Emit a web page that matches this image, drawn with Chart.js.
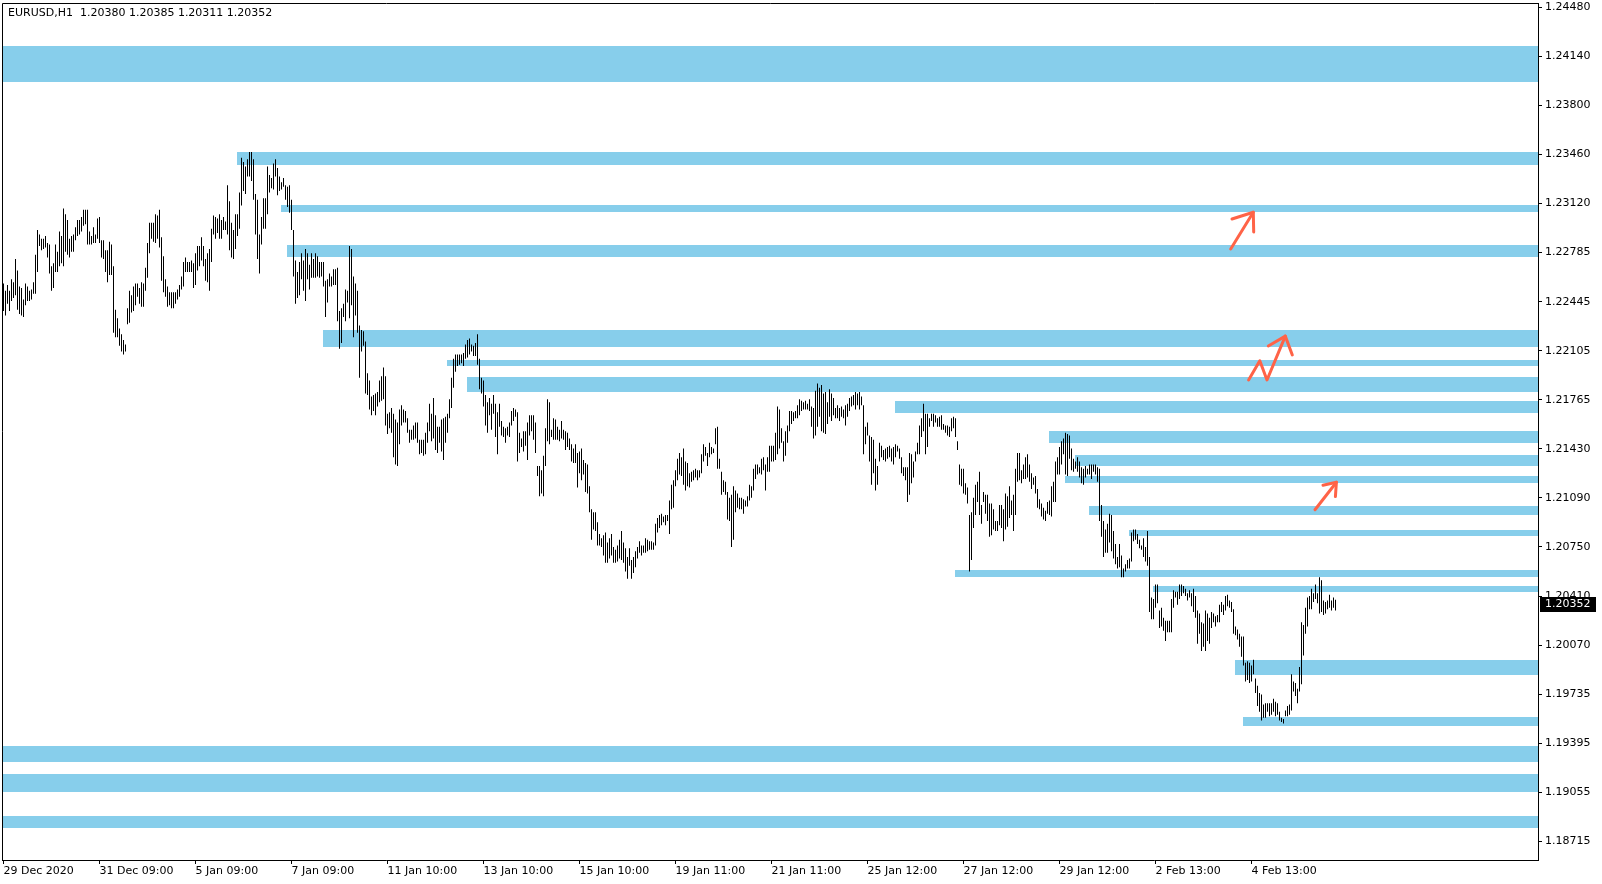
<!DOCTYPE html>
<html>
<head>
<meta charset="utf-8">
<title>EURUSD,H1</title>
<script src="https://cdn.jsdelivr.net/npm/chart.js@4.4.1/dist/chart.umd.min.js"></script>
<style>
  html, body { margin: 0; padding: 0; background: #fff; overflow: hidden; }
  #wrap { width: 1602px; height: 884px; position: relative; }
</style>
</head>
<body>
<div id="wrap"><canvas id="chart"></canvas></div>
<script>
const symbol = "EURUSD,H1";
// open, high, low, close of the last bar
const lastQuote = [1.20380, 1.20385, 1.20311, 1.20352];

const timeLabels = ["29 Dec 2020", "31 Dec 09:00", "5 Jan 09:00", "7 Jan 09:00", "11 Jan 10:00",
  "13 Jan 10:00", "15 Jan 10:00", "19 Jan 11:00", "21 Jan 11:00", "25 Jan 12:00",
  "27 Jan 12:00", "29 Jan 12:00", "2 Feb 13:00", "4 Feb 13:00"];
const barsPerLabel = 48;

const priceLabels = ["1.24480", "1.24140", "1.23800", "1.23460", "1.23120", "1.22785",
  "1.22445", "1.22105", "1.21765", "1.21430", "1.21090", "1.20750", "1.20410",
  "1.20070", "1.19735", "1.19395", "1.19055", "1.18715"];

// H1 bar highs and lows
const highs = [
  1.2257,1.2252,1.2256,1.2252,1.2260,1.2258,1.2274,1.2266,1.2255,1.2254,
  1.2246,1.2257,1.2255,1.2252,1.2253,1.2258,1.2277,1.2294,1.2291,1.2288,
  1.2288,1.2290,1.2285,1.2284,1.2269,1.2271,1.2284,1.2279,1.2293,1.2290,
  1.2309,1.2305,1.2301,1.2288,1.2290,1.2291,1.2296,1.2301,1.2301,1.2303,
  1.2308,1.2308,1.2308,1.2293,1.2290,1.2296,1.2291,1.2302,1.2303,1.2287,
  1.2287,1.2280,1.2280,1.2286,1.2284,1.2269,1.2239,1.2233,1.2226,1.2222,
  1.2218,1.2215,1.2240,1.2252,1.2249,1.2255,1.2257,1.2257,1.2254,1.2258,
  1.2257,1.2268,1.2285,1.2299,1.2299,1.2299,1.2305,1.2304,1.2308,1.2289,
  1.2276,1.2260,1.2255,1.2251,1.2251,1.2251,1.2251,1.2253,1.2256,1.2262,
  1.2272,1.2275,1.2272,1.2272,1.2273,1.2271,1.2278,1.2283,1.2283,1.2289,
  1.2283,1.2274,1.2278,1.2281,1.2295,1.2304,1.2303,1.2302,1.2305,1.2301,
  1.2303,1.2300,1.2325,1.2314,1.2299,1.2294,1.2305,1.2305,1.2320,1.2344,
  1.2341,1.2338,1.2343,1.2348,1.2348,1.2343,1.2319,1.2315,1.2291,1.2303,
  1.2316,1.2316,1.2338,1.2332,1.2330,1.2340,1.2343,1.2337,1.2331,1.2327,
  1.2330,1.2325,1.2324,1.2325,1.2315,1.2294,1.2273,1.2265,1.2272,1.2278,
  1.2273,1.2281,1.2278,1.2270,1.2278,1.2274,1.2278,1.2276,1.2272,1.2272,
  1.2272,1.2259,1.2260,1.2264,1.2262,1.2267,1.2267,1.2268,1.2238,1.2240,
  1.2243,1.2253,1.2252,1.2283,1.2281,1.2262,1.2257,1.2252,1.2228,1.2225,
  1.2224,1.2217,1.2195,1.2190,1.2179,1.2180,1.2181,1.2182,1.2190,1.2193,
  1.2199,1.2193,1.2167,1.2168,1.2171,1.2167,1.2163,1.2161,1.2170,1.2173,
  1.2170,1.2169,1.2164,1.2156,1.2156,1.2159,1.2161,1.2161,1.2149,1.2149,
  1.2149,1.2154,1.2161,1.2174,1.2167,1.2178,1.2166,1.2158,1.2158,1.2163,
  1.2164,1.2165,1.2167,1.2177,1.2192,1.2205,1.2208,1.2208,1.2208,1.2208,
  1.2209,1.2215,1.2218,1.2219,1.2215,1.2214,1.2216,1.2222,1.2205,1.2192,
  1.2190,1.2180,1.2175,1.2178,1.2174,1.2180,1.2174,1.2168,1.2174,1.2162,
  1.2158,1.2157,1.2158,1.2161,1.2169,1.2171,1.2170,1.2168,1.2154,1.2150,
  1.2155,1.2155,1.2161,1.2166,1.2166,1.2166,1.2161,1.2131,1.2131,1.2128,
  1.2138,1.2157,1.2177,1.2175,1.2156,1.2164,1.2163,1.2158,1.2156,1.2162,
  1.2156,1.2155,1.2154,1.2150,1.2146,1.2143,1.2146,1.2140,1.2141,1.2143,
  1.2135,1.2133,1.2132,1.2117,1.2101,1.2099,1.2099,1.2092,1.2084,1.2081,
  1.2083,1.2085,1.2078,1.2081,1.2084,1.2075,1.2073,1.2076,1.2080,1.2086,
  1.2078,1.2074,1.2068,1.2074,1.2066,1.2068,1.2072,1.2075,1.2079,1.2076,
  1.2076,1.2081,1.2080,1.2079,1.2079,1.2078,1.2091,1.2095,1.2097,1.2098,
  1.2096,1.2097,1.2097,1.2107,1.2118,1.2121,1.2128,1.2136,1.2140,1.2137,
  1.2143,1.2134,1.2133,1.2126,1.2127,1.2128,1.2129,1.2128,1.2128,1.2139,
  1.2146,1.2144,1.2140,1.2147,1.2144,1.2143,1.2157,1.2158,1.2136,1.2127,
  1.2121,1.2120,1.2113,1.2109,1.2111,1.2117,1.2114,1.2112,1.2109,1.2109,
  1.2108,1.2107,1.2110,1.2118,1.2117,1.2129,1.2132,1.2132,1.2130,1.2136,
  1.2137,1.2132,1.2137,1.2145,1.2145,1.2145,1.2154,1.2172,1.2170,1.2157,
  1.2148,1.2155,1.2159,1.2169,1.2169,1.2168,1.2169,1.2173,1.2177,1.2176,
  1.2175,1.2176,1.2174,1.2177,1.2172,1.2171,1.2183,1.2188,1.2185,1.2187,
  1.2181,1.2182,1.2175,1.2184,1.2181,1.2178,1.2171,1.2173,1.2171,1.2172,
  1.2170,1.2173,1.2174,1.2178,1.2179,1.2180,1.2182,1.2181,1.2182,1.2179,
  1.2173,1.2158,1.2161,1.2152,1.2151,1.2149,1.2136,1.2131,1.2147,1.2145,
  1.2142,1.2143,1.2144,1.2145,1.2143,1.2144,1.2146,1.2145,1.2143,1.2137,
  1.2130,1.2130,1.2130,1.2140,1.2139,1.2134,1.2141,1.2147,1.2159,1.2164,
  1.2174,1.2167,1.2167,1.2164,1.2167,1.2167,1.2166,1.2164,1.2165,1.2166,
  1.2160,1.2159,1.2159,1.2158,1.2164,1.2165,1.2164,1.2148,1.2132,1.2129,
  1.2129,1.2119,1.2116,1.2097,1.2099,1.2109,1.2118,1.2120,1.2127,1.2104,
  1.2113,1.2111,1.2111,1.2105,1.2105,1.2101,1.2093,1.2093,1.2104,1.2104,
  1.2101,1.2112,1.2110,1.2117,1.2107,1.2111,1.2129,1.2140,1.2140,1.2128,
  1.2132,1.2137,1.2139,1.2132,1.2126,1.2123,1.2124,1.2115,1.2108,1.2105,
  1.2102,1.2100,1.2106,1.2107,1.2117,1.2120,1.2134,1.2137,1.2144,1.2148,
  1.2150,1.2154,1.2153,1.2152,1.2143,1.2136,1.2134,1.2137,1.2134,1.2130,
  1.2129,1.2131,1.2129,1.2132,1.2132,1.2132,1.2132,1.2130,1.2129,1.2104,
  1.2093,1.2087,1.2091,1.2098,1.2097,1.2086,1.2077,1.2068,1.2077,1.2069,
  1.2060,1.2063,1.2066,1.2067,1.2085,1.2087,1.2087,1.2084,1.2080,1.2076,
  1.2081,1.2075,1.2086,1.2068,1.2040,1.2039,1.2049,1.2049,1.2031,1.2033,
  1.2026,1.2024,1.2024,1.2024,1.2039,1.2045,1.2044,1.2044,1.2049,1.2049,
  1.2048,1.2046,1.2043,1.2045,1.2043,1.2046,1.2041,1.2031,1.2029,1.2023,
  1.2022,1.2031,1.2029,1.2026,1.2030,1.2029,1.2027,1.2028,1.2035,1.2037,
  1.2035,1.2041,1.2042,1.2038,1.2037,1.2032,1.2020,1.2018,1.2015,1.2013,
  1.2013,1.1995,1.1996,1.1995,1.1993,1.1997,1.1984,1.1979,1.1974,1.1973,
  1.1966,1.1967,1.1967,1.1967,1.1967,1.1970,1.1968,1.1967,1.1961,1.1957,
  1.1956,1.1962,1.1965,1.1966,1.1987,1.1982,1.1981,1.1977,1.1992,1.2023,
  1.2021,1.2033,1.2040,1.2041,1.2046,1.2043,1.2049,1.2043,1.2054,1.2052,
  1.2038,1.2037,1.2038,1.2042,1.2038,1.2040,1.20385
];
const lows = [
  1.2238,1.2235,1.2243,1.2238,1.2245,1.2247,1.2249,1.2239,1.2236,1.2235,
  1.2234,1.2242,1.2245,1.2245,1.2246,1.2250,1.2250,1.2265,1.2283,1.2280,
  1.2281,1.2282,1.2275,1.2264,1.2252,1.2254,1.2265,1.2265,1.2269,1.2271,
  1.2269,1.2279,1.2277,1.2275,1.2279,1.2279,1.2287,1.2290,1.2291,1.2293,
  1.2297,1.2298,1.2284,1.2284,1.2284,1.2285,1.2285,1.2288,1.2285,1.2275,
  1.2274,1.2265,1.2258,1.2263,1.2263,1.2223,1.2220,1.2220,1.2214,1.2210,
  1.2208,1.2210,1.2229,1.2230,1.2237,1.2238,1.2242,1.2248,1.2243,1.2241,
  1.2241,1.2252,1.2261,1.2278,1.2288,1.2286,1.2285,1.2288,1.2282,1.2259,
  1.2251,1.2248,1.2241,1.2242,1.2240,1.2240,1.2243,1.2246,1.2248,1.2253,
  1.2255,1.2265,1.2265,1.2265,1.2265,1.2254,1.2256,1.2266,1.2269,1.2273,
  1.2269,1.2259,1.2258,1.2252,1.2272,1.2291,1.2288,1.2292,1.2288,1.2288,
  1.2294,1.2294,1.2291,1.2280,1.2275,1.2274,1.2281,1.2290,1.2295,1.2311,
  1.2321,1.2319,1.2331,1.2331,1.2328,1.2315,1.2291,1.2274,1.2264,1.2284,
  1.2295,1.2295,1.2305,1.2320,1.2323,1.2322,1.2331,1.2318,1.2321,1.2322,
  1.2324,1.2315,1.2310,1.2306,1.2294,1.2262,1.2243,1.2247,1.2249,1.2260,
  1.2252,1.2245,1.2260,1.2253,1.2261,1.2261,1.2261,1.2262,1.2261,1.2262,
  1.2255,1.2234,1.2244,1.2255,1.2255,1.2256,1.2256,1.2231,1.2212,1.2216,
  1.2234,1.2231,1.2244,1.2233,1.2242,1.2220,1.2235,1.2223,1.2192,1.2210,
  1.2214,1.2181,1.2180,1.2170,1.2166,1.2169,1.2166,1.2172,1.2175,1.2176,
  1.2177,1.2159,1.2153,1.2157,1.2154,1.2137,1.2132,1.2131,1.2146,1.2159,
  1.2161,1.2161,1.2154,1.2147,1.2149,1.2149,1.2150,1.2147,1.2139,1.2140,
  1.2138,1.2139,1.2147,1.2155,1.2148,1.2150,1.2142,1.2140,1.2147,1.2141,
  1.2135,1.2147,1.2154,1.2164,1.2171,1.2185,1.2196,1.2200,1.2201,1.2202,
  1.2200,1.2205,1.2206,1.2208,1.2210,1.2207,1.2207,1.2201,1.2184,1.2181,
  1.2172,1.2159,1.2154,1.2166,1.2156,1.2167,1.2151,1.2139,1.2158,1.2152,
  1.2151,1.2147,1.2152,1.2151,1.2159,1.2162,1.2165,1.2134,1.2140,1.2144,
  1.2141,1.2145,1.2135,1.2152,1.2155,1.2149,1.2140,1.2124,1.2110,1.2112,
  1.2110,1.2131,1.2148,1.2146,1.2151,1.2149,1.2149,1.2149,1.2148,1.2150,
  1.2149,1.2142,1.2144,1.2142,1.2134,1.2133,1.2133,1.2116,1.2126,1.2121,
  1.2125,1.2113,1.2112,1.2099,1.2080,1.2087,1.2086,1.2076,1.2076,1.2075,
  1.2069,1.2064,1.2064,1.2067,1.2069,1.2064,1.2064,1.2065,1.2067,1.2066,
  1.2064,1.2058,1.2053,1.2062,1.2053,1.2057,1.2061,1.2067,1.2071,1.2069,
  1.2071,1.2071,1.2072,1.2073,1.2073,1.2073,1.2076,1.2085,1.2088,1.2090,
  1.2092,1.2090,1.2093,1.2084,1.2101,1.2102,1.2117,1.2121,1.2125,1.2124,
  1.2118,1.2114,1.2117,1.2116,1.2120,1.2121,1.2123,1.2121,1.2123,1.2126,
  1.2134,1.2138,1.2131,1.2137,1.2139,1.2140,1.2146,1.2129,1.2129,1.2111,
  1.2113,1.2111,1.2094,1.2093,1.2075,1.2080,1.2099,1.2102,1.2101,1.2101,
  1.2098,1.2103,1.2103,1.2107,1.2109,1.2114,1.2122,1.2125,1.2126,1.2125,
  1.2128,1.2114,1.2127,1.2127,1.2134,1.2134,1.2135,1.2139,1.2143,1.2147,
  1.2134,1.2138,1.2147,1.2155,1.2160,1.2162,1.2164,1.2164,1.2166,1.2169,
  1.2170,1.2170,1.2170,1.2169,1.2158,1.2150,1.2152,1.2158,1.2165,1.2155,
  1.2154,1.2153,1.2160,1.2165,1.2162,1.2166,1.2164,1.2164,1.2162,1.2165,
  1.2164,1.2159,1.2165,1.2169,1.2172,1.2173,1.2170,1.2173,1.2170,1.2173,
  1.2139,1.2146,1.2152,1.2134,1.2118,1.2126,1.2114,1.2118,1.2134,1.2137,
  1.2135,1.2134,1.2136,1.2137,1.2134,1.2132,1.2137,1.2141,1.2136,1.2126,
  1.2124,1.2121,1.2106,1.2111,1.2119,1.2123,1.2134,1.2139,1.2139,1.2151,
  1.2155,1.2139,1.2144,1.2158,1.2162,1.2158,1.2161,1.2158,1.2158,1.2156,
  1.2156,1.2154,1.2152,1.2151,1.2155,1.2157,1.2151,1.2142,1.2118,1.2117,
  1.2112,1.2111,1.2105,1.2058,1.2066,1.2088,1.2097,1.2106,1.2097,1.2091,
  1.2106,1.2098,1.2093,1.2082,1.2083,1.2087,1.2086,1.2086,1.2090,1.2088,
  1.2079,1.2087,1.2089,1.2095,1.2097,1.2086,1.2097,1.2120,1.2121,1.2119,
  1.2122,1.2122,1.2123,1.2120,1.2115,1.2118,1.2112,1.2102,1.2101,1.2096,
  1.2094,1.2093,1.2098,1.2097,1.2096,1.2106,1.2106,1.2125,1.2125,1.2132,
  1.2139,1.2125,1.2124,1.2136,1.2128,1.2127,1.2129,1.2127,1.2123,1.2119,
  1.2118,1.2123,1.2125,1.2125,1.2122,1.2127,1.2125,1.2120,1.2093,1.2082,
  1.2068,1.2071,1.2071,1.2078,1.2072,1.2067,1.2063,1.2060,1.2061,1.2054,
  1.2054,1.2058,1.2060,1.2060,1.2065,1.2079,1.2080,1.2077,1.2074,1.2073,
  1.2068,1.2065,1.2062,1.2030,1.2025,1.2025,1.2033,1.2036,1.2019,1.2020,
  1.2017,1.2010,1.2016,1.2016,1.2016,1.2033,1.2040,1.2035,1.2039,1.2041,
  1.2043,1.2041,1.2038,1.2040,1.2034,1.2030,1.2026,1.2008,1.2015,1.2003,
  1.2006,1.2003,1.2010,1.2008,1.2019,1.2023,1.2020,1.2023,1.2023,1.2030,
  1.2028,1.2031,1.2034,1.2033,1.2030,1.2015,1.2014,1.2011,1.2006,1.1999,
  1.1993,1.1982,1.1983,1.1981,1.1982,1.1987,1.1974,1.1965,1.1961,1.1955,
  1.1957,1.1957,1.1961,1.1958,1.1959,1.1961,1.1958,1.1959,1.1955,1.1954,
  1.1953,1.1958,1.1958,1.1959,1.1962,1.1975,1.1972,1.1967,1.1975,1.1980,
  1.2000,1.2015,1.2020,1.2032,1.2032,1.2037,1.2039,1.2036,1.2029,1.2030,
  1.2028,1.2029,1.2032,1.2033,1.2031,1.2033,1.20311
];

// blue support/resistance zones: first bar (null = whole width), top and bottom price
const zoneStarts  = [null, 117, 139, 142, 160, 222, 232, 446, 523, 536, 531, 543, 563, 476, 575, 616, 620, null, null, null];
const zoneTops    = [1.24213, 1.23480, 1.23113, 1.22837, 1.22249, 1.22042, 1.21925, 1.21759, 1.21551, 1.21385,
                     1.21240, 1.21033, 1.20867, 1.20591, 1.20480, 1.19967, 1.19574, 1.19371, 1.19182, 1.18891];
const zoneBottoms = [1.23964, 1.23390, 1.23065, 1.22754, 1.22132, 1.22000, 1.21821, 1.21676, 1.21468, 1.21309,
                     1.21191, 1.20971, 1.20825, 1.20542, 1.20439, 1.19864, 1.19511, 1.19260, 1.19058, 1.18808];

// hand drawn red arrows, as polylines of [bar, price]
const arrows = [
  [[[613.6, 1.22809], [624.9, 1.23063]], [[614.25, 1.23017], [624.9, 1.23063], [625.1, 1.22927]]],
  [[[622.55, 1.21904], [628.15, 1.22037], [631.75, 1.21904], [640.9, 1.22207]], [[632.4, 1.22139], [640.9, 1.22207], [644.4, 1.22077]]],
  [[[655.75, 1.21007], [666.45, 1.21197]], [[659.75, 1.21176], [666.45, 1.21197], [665.95, 1.21098]]]
];

const font = { family: "DejaVu Sans", size: 11 };
const yTop = 1.24480, yBottom = 1.18715;
const yStep = (yTop - yBottom) / (priceLabels.length - 1);
const pxPerStep = 49.06;

const bars = highs.map((h, i) => ({ x: i, y: [lows[i], h] }));

const zonePlugin = {
  id: "zones",
  beforeDatasetsDraw(chart) {
    const { ctx, chartArea, scales } = chart;
    ctx.save();
    ctx.fillStyle = "#87CEEB";
    zoneTops.forEach((top, k) => {
      const x0 = zoneStarts[k] === null ? chartArea.left : Math.round(scales.x.getPixelForValue(zoneStarts[k]) - 0.5);
      const y0 = Math.round(scales.y.getPixelForValue(top));
      const y1 = Math.round(scales.y.getPixelForValue(zoneBottoms[k]));
      ctx.fillRect(x0, y0, chartArea.right - x0, y1 - y0);
    });
    ctx.restore();
  }
};

const arrowPlugin = {
  id: "arrows",
  afterDatasetsDraw(chart) {
    const { ctx, scales } = chart;
    ctx.save();
    ctx.strokeStyle = "#FF6347";
    ctx.lineWidth = 3;
    ctx.lineCap = "round";
    ctx.lineJoin = "round";
    arrows.forEach(arrow => arrow.forEach(path => {
      ctx.beginPath();
      path.forEach(([b, p], n) => {
        const x = scales.x.getPixelForValue(b), y = scales.y.getPixelForValue(p);
        if (n === 0) ctx.moveTo(x, y); else ctx.lineTo(x, y);
      });
      ctx.stroke();
    }));
    ctx.restore();
  }
};

const framePlugin = {
  id: "frame",
  afterDraw(chart) {
    const { ctx, chartArea, scales } = chart;
    ctx.save();
    ctx.strokeStyle = "#000";
    ctx.lineWidth = 1;
    ctx.beginPath();
    ctx.moveTo(chartArea.left + 0.5, chartArea.bottom);
    ctx.lineTo(chartArea.left + 0.5, chartArea.top + 0.5);
    ctx.lineTo(chartArea.right, chartArea.top + 0.5);
    ctx.stroke();

    ctx.font = "11px 'DejaVu Sans'";
    ctx.textBaseline = "middle";
    ctx.fillStyle = "#000";
    ctx.fillText(symbol + "  " + lastQuote.map(v => v.toFixed(5)).join(" "), 8, 13);

    // current price box
    const py = Math.round(scales.y.getPixelForValue(lastQuote[3]));
    ctx.fillRect(chartArea.right + 2, py - 7, 56, 15);
    ctx.fillStyle = "#fff";
    ctx.fillText(lastQuote[3].toFixed(5), chartArea.right + 7, py + 0.5);
    ctx.restore();
  }
};

new Chart(document.getElementById("chart"), {
  type: "bar",
  data: {
    datasets: [{
      data: bars,
      backgroundColor: "#000",
      borderWidth: 0,
      barThickness: 1,
      inflateAmount: 0,
      grouped: false
    }]
  },
  options: {
    responsive: true,
    maintainAspectRatio: false,
    animation: false,
    events: [],
    layout: { padding: { left: 2, top: 3, right: 0, bottom: 0 } },
    plugins: { legend: { display: false }, tooltip: { enabled: false } },
    scales: {
      x: {
        type: "linear",
        min: -0.75,
        max: 767.25,
        offset: false,
        grid: { offset: false, drawOnChartArea: false, drawTicks: true, tickLength: 4, color: "#000" },
        border: { display: true, color: "#000" },
        afterBuildTicks: s => { s.ticks = timeLabels.map((_, k) => ({ value: k * barsPerLabel })); },
        afterFit: s => { s.height = 24; s.paddingLeft = 0; s.paddingRight = 0; },
        ticks: {
          align: "start", autoSkip: false, maxRotation: 0, padding: 1,
          color: "#000", font: font,
          callback: (v, k) => timeLabels[k]
        }
      },
      y: {
        position: "right",
        min: yTop - (852.7 / pxPerStep) * yStep,
        max: yTop + (4.3 / pxPerStep) * yStep,
        grid: { offset: false, drawOnChartArea: false, drawTicks: true, tickLength: 4, color: "#000" },
        border: { display: true, color: "#000" },
        afterBuildTicks: s => { s.ticks = priceLabels.map((_, k) => ({ value: yTop - k * yStep })); },
        afterFit: s => { s.width = 64; s.paddingTop = 0; s.paddingBottom = 0; },
        ticks: {
          autoSkip: false, padding: 3, color: "#000", font: font,
          callback: (v, k) => priceLabels[k]
        }
      }
    }
  },
  plugins: [zonePlugin, arrowPlugin, framePlugin]
});
</script>
</body>
</html>
